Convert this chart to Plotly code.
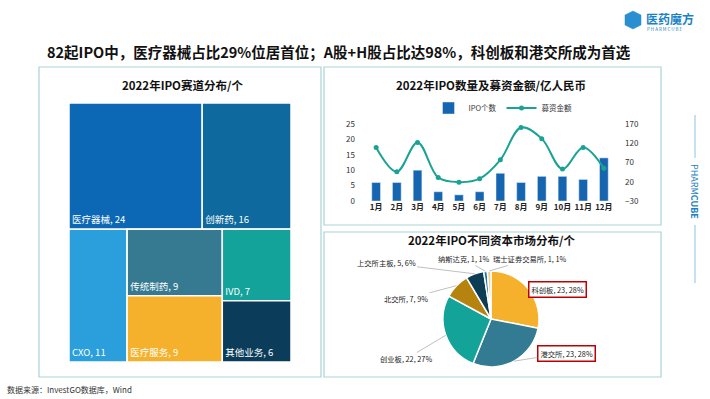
import math
import plotly.graph_objects as go

W, H = 710, 399
FONT = "Noto Sans CJK SC"

# ---------------- data ----------------
# treemap: IPO by track
tm_labels = ["医疗器械", "创新药", "CXO", "传统制药", "医疗服务", "IVD", "其他业务"]
tm_values = [24, 16, 11, 9, 9, 7, 6]
tm_groups = ["top", "top", "bottom", "bottom-mid", "bottom-mid", "bottom-right", "bottom-right"]
tm_colors = ["#0c68b4", "#0e6a9e", "#2a9fdc", "#367a92", "#f5b12c", "#14a39a", "#0b3d5a"]

# bar + line: monthly IPO count and funds raised
months = ["1月", "2月", "3月", "4月", "5月", "6月", "7月", "8月", "9月", "10月", "11月", "12月"]
ipo_counts = [6, 6, 10, 3, 2, 3, 9, 6, 8, 8, 7, 14]
funds = [109, 46, 122, 31, 19, 28, 77, 161, 132, 53, 109, 55]

# pie: capital market distribution
markets = ["科创板", "港交所", "创业板", "北交所", "上交所主板", "纳斯达克", "瑞士证券交易所"]
market_counts = [23, 23, 22, 7, 5, 1, 1]
market_colors = ["#f5b12c", "#337a93", "#14a399", "#b6830f", "#0d3c55", "#1676b0", "#f3cd86"]
highlight = ["科创板", "港交所"]

# ---------------- helpers ----------------
def px(x):
    return x / W

def py(y):
    return 1 - y / H

fig = go.Figure()

# ---------------- treemap ----------------
group_parent = {"top": "root", "bottom": "root", "bottom-mid": "bottom", "bottom-right": "bottom"}

def ancestors(g):
    out = [g]
    while g in group_parent:
        g = group_parent[g]
        out.append(g)
    return out

def group_total(g):
    return sum(v for v, gg in zip(tm_values, tm_groups) if g in ancestors(gg))

ids, parents, labels, values, colors, texts = [], [], [], [], [], []

def add_group(g):
    ids.append(g); parents.append(group_parent.get(g, "")); labels.append(" ")
    values.append(group_total(g)); colors.append("white"); texts.append("")

def add_leaf(i):
    ids.append(tm_labels[i]); parents.append(tm_groups[i]); labels.append(tm_labels[i])
    values.append(tm_values[i]); colors.append(tm_colors[i])
    texts.append(f"{tm_labels[i]}, {tm_values[i]}")

add_group("root")
add_group("top")
add_group("bottom")
for i, g in enumerate(tm_groups):
    if g == "top":
        add_leaf(i)
add_leaf(tm_labels.index("CXO"))
add_group("bottom-mid")
add_group("bottom-right")
for i, g in enumerate(tm_groups):
    if g in ("bottom-mid", "bottom-right"):
        add_leaf(i)

fig.add_trace(go.Treemap(
    ids=ids, parents=parents, labels=labels, values=values, text=texts,
    branchvalues="total", sort=False,
    textinfo="text", textposition="bottom left",
    textfont=dict(family=FONT, size=9.5, color="white"),
    marker=dict(colors=colors, line=dict(color="white", width=1.5),
                pad=dict(t=0, l=0, r=0, b=0)),
    tiling=dict(packing="dice-slice", pad=0),
    pathbar=dict(visible=False),
    domain=dict(x=[px(69), px(291)], y=[py(362), py(103)]),
    hoverinfo="skip",
))

# ---------------- bar + line ----------------
fig.add_trace(go.Bar(
    x=months, y=ipo_counts, name="IPO个数", marker_color="#1565b0",
    width=0.42, xaxis="x", yaxis="y",
))
fig.add_trace(go.Scatter(
    x=months, y=funds, name="募资金额", mode="lines+markers",
    line=dict(color="#1aa394", width=2, shape="spline", smoothing=1.0),
    marker=dict(color="#1aa394", size=5),
    xaxis="x", yaxis="y2",
))

# ---------------- pie ----------------
cx, cy, r = 491, 319, 48
fig.add_trace(go.Pie(
    labels=markets, values=market_counts, sort=False, direction="clockwise", rotation=0,
    marker=dict(colors=market_colors, line=dict(color="white", width=1.5)),
    textinfo="none", showlegend=False, hoverinfo="skip",
    domain=dict(x=[px(cx - r), px(cx + r)], y=[py(cy + r), py(cy - r)]),
))

# pie labels (text centre positions, pixels)
label_pos = {
    "科创板": (557, 289),
    "港交所": (566, 353),
    "创业板": (406, 359),
    "北交所": (406, 299),
    "上交所主板": (386, 263),
    "纳斯达克": (464, 259),
    "瑞士证券交易所": (530, 259),
}
total = sum(market_counts)
annotations = []
cum = 0
for name, cnt in zip(markets, market_counts):
    mid = (cum + cnt / 2) / total * 2 * math.pi
    cum += cnt
    tx = cx + r * math.sin(mid)
    ty = cy - r * math.cos(mid)
    lx, ly = label_pos[name]
    pct = round(cnt / total * 100)
    ann = dict(
        x=px(tx), y=py(ty), xref="paper", yref="paper",
        ax=lx - tx, ay=ly - ty, axref="pixel", ayref="pixel",
        text=f"{name}, {cnt}, {pct}%", showarrow=True, arrowhead=0,
        arrowwidth=0.8, arrowcolor="#b0b0b0",
        font=dict(family=FONT, size=7.3, color="#222222"),
    )
    if name in highlight:
        ann.update(bordercolor="#c00000", borderwidth=1.5, borderpad=2, bgcolor="white")
    annotations.append(ann)

def text_ann(x, y, text, size, color="#111111", xanchor="center", **kw):
    d = dict(x=px(x), y=py(y), xref="paper", yref="paper", showarrow=False,
             xanchor=xanchor, yanchor="middle", text=text,
             font=dict(family=FONT, size=size, color=color))
    d.update(kw)
    return d

annotations += [
    text_ann(339, 51, "<b>82起IPO中，医疗器械占比29%位居首位；A股+H股占比达98%，科创板和港交所成为首选</b>", 14.5),
    text_ann(182, 85, "<b>2022年IPO赛道分布/个</b>", 11.5),
    text_ann(491, 85, "<b>2022年IPO数量及募资金额/亿人民币</b>", 11.5),
    text_ann(491, 240, "<b>2022年IPO不同资本市场分布/个</b>", 11.5),
    text_ann(5, 389, "数据来源：InvestGO数据库，Wind", 8, color="#333333", xanchor="left"),
    text_ann(644, 18, "<b>医药魔方</b>", 12, color="#1a82c4", xanchor="left"),
    text_ann(645, 29, "P H A R M C U B E", 4.5, color="#1a82c4", xanchor="left"),
    text_ann(695, 191, "PHARM<b>CUBE</b>", 9, color="#1a82c4", textangle=90),
]

# shapes: panel borders and decorations
border = dict(color="#a9d3d6", width=1.2)
shapes = [
    dict(type="rect", xref="paper", yref="paper", x0=px(39), x1=px(321), y0=py(377), y1=py(67), line=border, layer="below"),
    dict(type="rect", xref="paper", yref="paper", x0=px(324), x1=px(661), y0=py(225), y1=py(67), line=border, layer="below"),
    dict(type="rect", xref="paper", yref="paper", x0=px(324), x1=px(661), y0=py(377), y1=py(232), line=border, layer="below"),
    dict(type="line", xref="paper", yref="paper", x0=px(695), x1=px(695), y0=py(115), y1=py(158), line=dict(color="#8cc4e4", width=1)),
    dict(type="line", xref="paper", yref="paper", x0=px(695), x1=px(695), y0=py(225), y1=py(283), line=dict(color="#8cc4e4", width=1)),
    dict(type="path", xref="paper", yref="paper",
         path=f"M {px(633)},{py(11)} L {px(641)},{py(15)} L {px(641)},{py(25)} L {px(633)},{py(29)} L {px(625)},{py(25)} L {px(625)},{py(15)} Z",
         fillcolor="#2a8fd0", line=dict(color="#2a8fd0", width=0.5)),
]

fig.update_layout(
    width=W, height=H, autosize=False,
    margin=dict(l=0, r=0, t=0, b=0, pad=0, autoexpand=False),
    paper_bgcolor="white", plot_bgcolor="white",
    font=dict(family=FONT, size=8, color="#333333"),
    showlegend=True,
    legend=dict(orientation="h", x=px(503), y=py(108), xanchor="center", yanchor="middle",
                font=dict(family=FONT, size=7.5, color="#333333"), bgcolor="rgba(0,0,0,0)",
                itemwidth=30, tracegroupgap=0),
    xaxis=dict(domain=[px(360), px(620)], showgrid=False, showline=False, ticks="",
               tickfont=dict(family=FONT, size=8, color="#222222", weight="bold"),
               anchor="y", automargin=False),
    yaxis=dict(domain=[py(201), py(124)], range=[0, 25], dtick=5, tick0=0, showgrid=False,
               showline=False, zeroline=False, ticks="", ticklabelstandoff=4, automargin=False,
               tickfont=dict(family=FONT, size=8, color="#333333")),
    yaxis2=dict(overlaying="y", side="right", range=[-30, 170], dtick=50, tick0=-30,
                showgrid=False, showline=False, zeroline=False, ticks="", automargin=False,
                ticklabelstandoff=4, tickfont=dict(family=FONT, size=8, color="#333333")),
    bargap=0.5,
    annotations=annotations,
    shapes=shapes,
)

fig.write_html(
    "out.html",
    config={"displayModeBar": False},
    post_script="document.body.style.margin='0';document.body.style.overflow='hidden';",
)
